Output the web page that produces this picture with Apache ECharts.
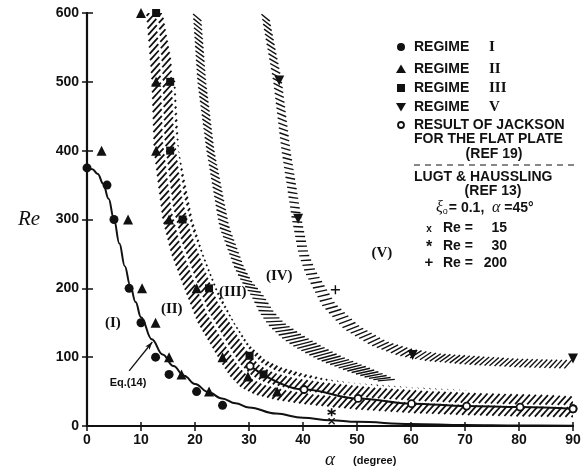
<!DOCTYPE html>
<html><head><meta charset="utf-8">
<script src="https://cdn.jsdelivr.net/npm/echarts@6.0.0/dist/echarts.min.js"></script>
<style>html,body{margin:0;padding:0;background:#fff}#c{width:586px;height:472px}</style>
</head><body><div id="c"></div>
<script>
// ---------------- data (alpha in degrees, Re) ----------------
var xTicks = [0, 10, 20, 30, 40, 50, 60, 70, 80, 90];
var yTicks = [0, 100, 200, 300, 400, 500, 600];

var regimeI   = [[0,375],[3.7,350],[5,300],[7.8,200],[10,150],[12.7,100],[15.2,75],[20.3,50],[25.1,30],[90,25]];
var regimeII  = [[2.7,400],[7.6,300],[10.2,200],[12.7,150],[15.2,100],[17.5,75],[22.6,50],[25.1,100],[20.3,200],
                 [15.2,300],[12.8,400],[12.8,500],[10,600],[29.8,72],[35.2,50]];
var regimeIII = [[12.8,600],[15.4,500],[15.4,400],[17.7,300],[22.6,200],[30.1,102],[32.7,75]];
var regimeV   = [[35.6,502],[39.1,301],[60.3,103],[90,98]];
var jackson   = [[30.2,87],[40.2,53],[50.2,40],[60.1,32.5],[70.3,29],[80.2,27.5],[90,25]];
var lugtRe15  = [[45.3,7]];
var lugtRe30  = [[45.3,20]];
var lugtRe200 = [[46,198]];

var eq14Alpha = [0,1,2,3,4,5,6,7,8,9,10,12,14,16,18,20,22.5,25,27.5,30,35,40,45,50,60,70,80,90];
var eq14Re    = [375,373,366,352,330,300,265,232,204,180,158,126,104,87,73,61,49,40,33,27,18,12,8.5,6,3,1.5,0.8,0.4];

// hatched transition bands: inner (towards origin) and outer edges
var band1Inner = [[11,600],[12,500],[12.4,400],[14,300],[15.6,250],[18,200],[20.5,150],[23.5,110],[25,90],[26.5,72],
                  [28.5,56],[31,46],[35,38],[40,32],[50,24],[60,19],[70,16],[80,14],[90,13]];
var band1Outer = [[14,600],[16.3,500],[17,400],[19.5,300],[21.5,250],[24,200],[27.3,150],[30,118],[33,96],[36,85],
                  [40,76],[45,67],[50,62],[55,59],[60,56],[70,52],[80,47],[90,43]];
var band2Inner = [[19.4,600],[20.2,500],[21.9,400],[24.2,290],[27,230],[28.3,210],[30,190],[31.5,165],[33,147],
                  [35.5,127],[37.8,114],[42,96],[46.5,82],[51,70],[55,62]];
var band2Outer = [[21.3,600],[22.3,500],[23.8,400],[26.6,290],[29.4,230],[30.8,210],[33,190],[35,166],[37,150],
                  [40.2,134],[42.7,123],[46,109],[48,101],[52,88],[55,78],[57.5,68]];
var band3Inner = [[32,600],[34.2,500],[35.7,400],[37.6,300],[38.8,250],[40,222],[43,175],[47,140],[52,116],[57,101],
                  [62,93],[70,87],[80,83],[90,81]];
var band3Outer = [[33.8,600],[36.4,500],[38,400],[40.1,300],[41.4,250],[42.8,225],[46.5,178],[51,146],[56,124],
                  [61,113],[66,107],[72,104],[80,100],[90,98]];

var regionLabels = [[4.8,150,'(I)'],[15.7,170,'(II)'],[27,194,'(III)'],[35.6,218,'(IV)'],[54.6,251,'(V)']];
var eqLabel = [[7.6,63,'Eq.(14)']];
var eqArrow = [[7.8,80],[12.1,122]];

// ---------------- helpers ----------------
var INK = '#111';
function zip(a, b) { return a.map(function (v, i) { return [v, b[i]]; }); }

function polyHatch(inner, outer, angleDeg, spacing, lw, dash) {
  return function (params, api) {
    var poly = inner.concat(outer.slice().reverse()).map(function (p) { return api.coord(p); });
    var a = angleDeg * Math.PI / 180;
    var d = [Math.cos(a), -Math.sin(a)], n = [Math.sin(a), Math.cos(a)];
    var proj = poly.map(function (p) { return p[0] * n[0] + p[1] * n[1]; });
    var smin = Math.min.apply(null, proj), smax = Math.max.apply(null, proj);
    var children = [];
    for (var s = Math.ceil(smin / spacing) * spacing; s <= smax; s += spacing) {
      var us = [];
      for (var i = 0; i < poly.length; i++) {
        var j = (i + 1) % poly.length;
        var da = proj[i] - s, db = proj[j] - s;
        if ((da < 0) !== (db < 0)) {
          var t = da / (da - db);
          var px = poly[i][0] + t * (poly[j][0] - poly[i][0]);
          var py = poly[i][1] + t * (poly[j][1] - poly[i][1]);
          us.push(px * d[0] + py * d[1]);
        }
      }
      us.sort(function (x, y) { return x - y; });
      for (var k = 0; k + 1 < us.length; k += 2) {
        children.push({
          type: 'line',
          shape: { x1: s * n[0] + us[k] * d[0], y1: s * n[1] + us[k] * d[1],
                   x2: s * n[0] + us[k + 1] * d[0], y2: s * n[1] + us[k + 1] * d[1] },
          style: { stroke: INK, lineWidth: lw, lineDash: dash }
        });
      }
    }
    return { type: 'group', children: children };
  };
}

function resample(pts, n) {
  var cum = [0];
  for (var i = 1; i < pts.length; i++) {
    cum.push(cum[i - 1] + Math.hypot(pts[i][0] - pts[i - 1][0], pts[i][1] - pts[i - 1][1]));
  }
  var total = cum[cum.length - 1], out = [], j = 0;
  for (var k = 0; k <= n; k++) {
    var target = total * k / n;
    while (j < cum.length - 2 && cum[j + 1] < target) j++;
    var seg = cum[j + 1] - cum[j];
    var t = seg > 0 ? (target - cum[j]) / seg : 0;
    out.push([pts[j][0] + t * (pts[j + 1][0] - pts[j][0]), pts[j][1] + t * (pts[j + 1][1] - pts[j][1])]);
  }
  return { pts: out, total: total };
}

function bandHatch(inner, outer, spacing, shiftPx, lw, trim) {
  return function (params, api) {
    var a = inner.map(function (p) { return api.coord(p); });
    var b = outer.map(function (p) { return api.coord(p); });
    var ra = resample(a, 10), rb = resample(b, 10);
    var L = Math.max(ra.total, rb.total);
    var n = Math.round(L / spacing);
    var A = resample(a, n).pts, B = resample(b, n).pts;
    var shift = Math.round(shiftPx / (L / n));
    var children = [];
    for (var i = 0; i <= n; i++) {
      var j = i + shift;
      if (j < 0 || j > n) continue;
      var p = A[i], q = B[j];
      var x1 = p[0] + trim * (q[0] - p[0]), y1 = p[1] + trim * (q[1] - p[1]);
      var x2 = q[0] - trim * (q[0] - p[0]), y2 = q[1] - trim * (q[1] - p[1]);
      children.push({ type: 'line', shape: { x1: x1, y1: y1, x2: x2, y2: y2 },
                      style: { stroke: INK, lineWidth: lw } });
    }
    return { type: 'group', children: children };
  };
}

function hatchSeries(fn) {
  return { type: 'custom', xAxisIndex: 0, yAxisIndex: 0, silent: true, clip: true, z: 1,
           data: [[0, 0]], renderItem: fn };
}

function scatter(data, symbol, size, style, extra) {
  var st = { opacity: 1 };
  for (var k0 in style) st[k0] = style[k0];
  var s = { type: 'scatter', xAxisIndex: 0, yAxisIndex: 0, data: data, symbol: symbol, symbolSize: size,
            itemStyle: st, z: 5, silent: true };
  for (var k in extra) s[k] = extra[k];
  return s;
}

var tickLabel = { color: INK, fontFamily: 'Liberation Sans', fontWeight: 'bold', fontSize: 14 };
var SANS = 'Liberation Sans', SERIF = 'Liberation Serif';

var chart = echarts.init(document.getElementById('c'), null, { renderer: 'canvas' });

var gridRect = { left: 87, right: 13, top: 13, bottom: 46 };

var option = {
  animation: false,
  backgroundColor: '#fff',
  grid: [Object.assign({}, gridRect), Object.assign({}, gridRect)],
  xAxis: [
    { gridIndex: 0, type: 'value', min: xTicks[0], max: xTicks[xTicks.length - 1], interval: xTicks[1] - xTicks[0],
      position: 'bottom', splitLine: { show: false },
      axisLine: { lineStyle: { color: INK, width: 2 } },
      axisTick: { show: true, inside: false, length: 5, lineStyle: { color: INK, width: 1.5 } },
      axisLabel: Object.assign({ margin: 7 }, tickLabel) },
    { gridIndex: 0, type: 'value', min: 0, max: 90, position: 'top', splitLine: { show: false },
      axisLine: { lineStyle: { color: INK, width: 2 } }, axisTick: { show: false }, axisLabel: { show: false } },
    { gridIndex: 1, type: 'value', min: 0, max: 90, interval: 10, position: 'bottom', splitLine: { show: false },
      axisLine: { show: false }, axisTick: { show: true, inside: true, length: 4, lineStyle: { color: INK, width: 1.5 } },
      axisLabel: { show: false } }
  ],
  yAxis: [
    { gridIndex: 0, type: 'value', min: yTicks[0], max: yTicks[yTicks.length - 1], interval: yTicks[1] - yTicks[0],
      position: 'left', splitLine: { show: false },
      axisLine: { lineStyle: { color: INK, width: 2.2 } },
      axisTick: { show: true, inside: false, length: 5, lineStyle: { color: INK, width: 1.5 } },
      axisLabel: Object.assign({ margin: 8 }, tickLabel) },
    { gridIndex: 0, type: 'value', min: 0, max: 600, position: 'right', splitLine: { show: false },
      axisLine: { lineStyle: { color: INK, width: 1.5 } }, axisTick: { show: false }, axisLabel: { show: false } },
    { gridIndex: 1, type: 'value', min: 0, max: 600, interval: 100, position: 'left', splitLine: { show: false },
      axisLine: { show: false }, axisTick: { show: true, inside: true, length: 6, lineStyle: { color: INK, width: 1.5 } },
      axisLabel: { show: false } }
  ],
  series: [
    hatchSeries(polyHatch(band1Inner, band1Outer, 48, 4.6, 1.8, [13, 3])),
    hatchSeries(bandHatch(band2Inner, band2Outer, 4.6, 8, 1.4, 0.12)),
    hatchSeries(bandHatch(band3Inner, band3Outer, 5, 8, 1.4, 0.14)),
    { type: 'line', xAxisIndex: 0, yAxisIndex: 0, data: zip(eq14Alpha, eq14Re), smooth: 0.4, smoothMonotone: 'x',
      symbol: 'none', z: 4, silent: true, lineStyle: { color: INK, width: 2 },
      markLine: { silent: true, symbol: ['none', 'arrow'], symbolSize: [4, 8], animation: false,
                  lineStyle: { color: INK, width: 1.3, type: 'solid' }, label: { show: false },
                  data: [[{ coord: eqArrow[0] }, { coord: eqArrow[1] }]] } },
    { type: 'line', xAxisIndex: 0, yAxisIndex: 0, data: jackson, smooth: 0.4, smoothMonotone: 'x',
      symbol: 'none', z: 4, silent: true, lineStyle: { color: INK, width: 2 } },
    scatter(jackson, 'circle', 7, { color: '#fff', borderColor: INK, borderWidth: 1.8 }, { z: 6 }),
    scatter(regimeI, 'circle', 9, { color: INK }),
    scatter(regimeII, 'triangle', 10, { color: INK }),
    scatter(regimeIII, 'rect', 8, { color: INK }),
    scatter(regimeV, 'triangle', 10, { color: INK }, { symbolRotate: 180 }),
    scatter(lugtRe15, 'path://M0,0L10,10M10,0L0,10', 6, { color: 'none', borderColor: INK, borderWidth: 1.3 }),
    scatter(lugtRe30, 'path://M5,0L5,10M0,2.5L10,7.5M10,2.5L0,7.5', 8, { color: 'none', borderColor: INK, borderWidth: 1.6 }),
    scatter(lugtRe200, 'path://M5,0L5,10M0,5L10,5', 9, { color: 'none', borderColor: INK, borderWidth: 1.4 }),
    scatter(regionLabels, 'circle', 2, { color: 'rgba(0,0,0,0)' }, { z: 8,
      label: { show: true, position: 'inside', formatter: function (p) { return p.value[2]; },
               color: INK, fontFamily: SERIF, fontWeight: 'bold', fontSize: 15 } }),
    scatter(eqLabel, 'circle', 2, { color: 'rgba(0,0,0,0)' }, { z: 8,
      label: { show: true, position: 'inside', formatter: function (p) { return p.value[2]; },
               color: INK, fontFamily: SANS, fontWeight: 'bold', fontSize: 11 } })
  ],
  graphic: { elements: [] }
};

// ---------------- legend & axis titles (layout) ----------------
var G = option.graphic.elements;
var LX = 401, TX = 414, RX = 489;
function txt(x, y, s, font, align, extra) {
  var e = { type: 'text', x: x, y: y, silent: true, z: 100,
            style: { text: s, font: font, fill: INK, align: align || 'left', verticalAlign: 'middle' } };
  if (extra) for (var k in extra) e.style[k] = extra[k];
  G.push(e);
}
var LF = 'bold 14px "Liberation Sans"';
var RF = 'bold 15px "Liberation Serif"';
var legendRows = [[47, 'I'], [69, 'II'], [88, 'III'], [107, 'V']];
legendRows.forEach(function (r) { txt(TX, r[0], 'REGIME', LF); txt(RX, r[0], r[1], RF); });
G.push({ type: 'circle', shape: { cx: LX, cy: 47, r: 4 }, style: { fill: INK }, silent: true });
G.push({ type: 'polygon', shape: { points: [[LX - 5, 73], [LX + 5, 73], [LX, 64.5]] }, style: { fill: INK }, silent: true });
G.push({ type: 'rect', shape: { x: LX - 4, y: 84, width: 8, height: 8 }, style: { fill: INK }, silent: true });
G.push({ type: 'polygon', shape: { points: [[LX - 5, 103], [LX + 5, 103], [LX, 111.5]] }, style: { fill: INK }, silent: true });
G.push({ type: 'circle', shape: { cx: LX, cy: 125, r: 3 }, style: { fill: '#fff', stroke: INK, lineWidth: 1.8 }, silent: true });
txt(TX, 125, 'RESULT OF JACKSON', LF);
txt(TX, 139, 'FOR THE FLAT PLATE', LF);
txt(494, 154, '(REF 19)', LF, 'center');
G.push({ type: 'line', shape: { x1: TX, y1: 165, x2: 574, y2: 165 },
         style: { stroke: INK, lineWidth: 1.2, lineDash: [6, 5] }, silent: true });
txt(TX, 177, 'LUGT & HAUSSLING', LF);
txt(493, 191, '(REF 13)', LF, 'center');
G.push({ type: 'text', x: 436, y: 208, silent: true, z: 100,
  style: { text: '{g|ξ}{s|o}{n|= 0.1,  }{g|α}{n| =45°}', verticalAlign: 'middle', fill: INK,
    rich: { g: { font: 'italic 16px "Liberation Serif"', fill: INK },
            s: { font: '9px "Liberation Sans"', fill: INK, padding: [8, 1, 0, 0] },
            n: { font: 'bold 14px "Liberation Sans"', fill: INK } } } });
var lugtRows = [[228, '15'], [246, '30'], [263, '200']];
lugtRows.forEach(function (r) { txt(443, r[0], 'Re =', LF); txt(507, r[0], r[1], LF, 'right'); });
txt(429, 229, 'x', 'bold 10px "Liberation Sans"', 'center');
txt(429, 248, '*', 'bold 16px "Liberation Sans"', 'center');
txt(429, 263, '+', 'bold 15px "Liberation Sans"', 'center');

txt(29, 219, 'Re', 'italic 21px "Liberation Serif"', 'center');
txt(330, 460, 'α', 'italic 19px "Liberation Serif"', 'center');
txt(353, 461, '(degree)', 'bold 11px "Liberation Sans"', 'left');

chart.setOption(option);
</script>
</body></html>
